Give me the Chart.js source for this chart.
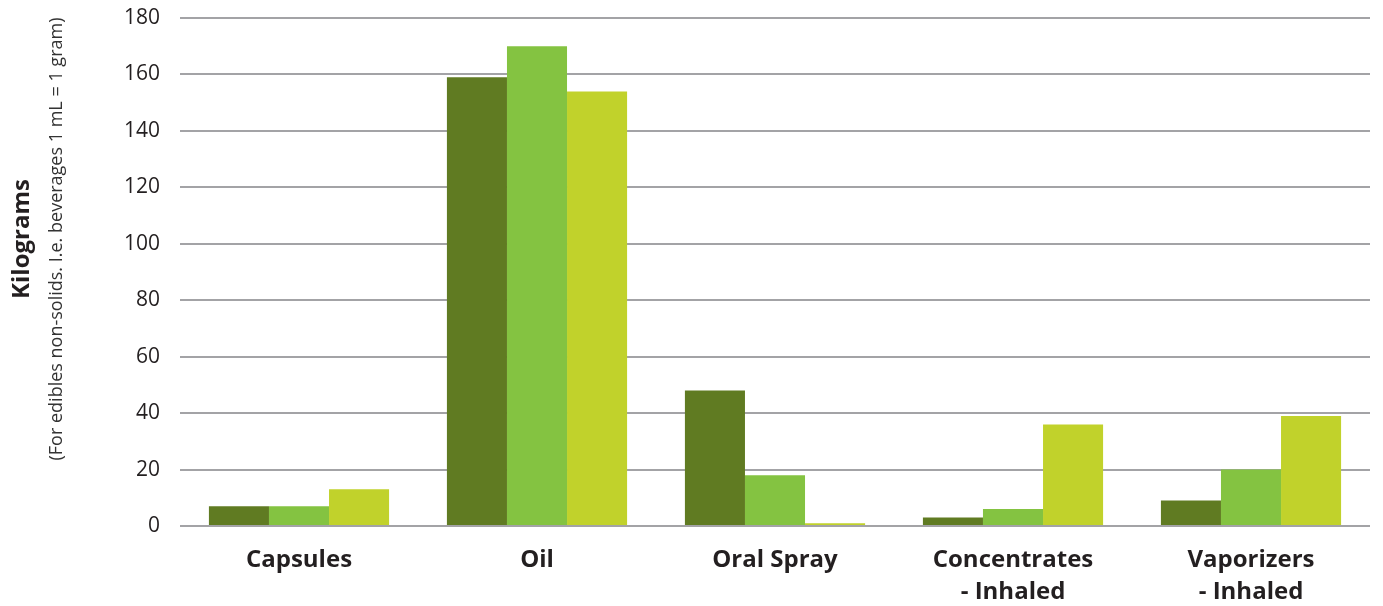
<!DOCTYPE html>
<html>
<head>
<meta charset="utf-8">
<script src="https://cdn.jsdelivr.net/npm/chart.js@4"></script>
<style>
  html, body { margin: 0; padding: 0; background: #fff; }
  #wrap { width: 1383px; height: 606px; }
</style>
</head>
<body>
<div id="wrap"><canvas id="myChart"></canvas></div>
<script>
const categories = ['Capsules', 'Oil', 'Oral Spray', ['Concentrates', '- Inhaled'], ['Vaporizers', '- Inhaled']];
const series1 = [7, 159, 48, 3, 9];
const series2 = [7, 170, 18, 6, 20];
const series3 = [13, 154, 1, 36, 39];
const yTicks = [0, 20, 40, 60, 80, 100, 120, 140, 160, 180];

const FONT = "'Open Sans', sans-serif";

// draws the two-line rotated y title
const yTitlePlugin = {
  id: 'yTitle',
  afterDraw(chart) {
    const c = chart.ctx;
    c.save();
    c.textAlign = 'center';
    c.textBaseline = 'middle';
    c.fillStyle = '#231f20';
    c.translate(22, 239);
    c.rotate(-Math.PI / 2);
    c.font = "bold 24px " + FONT;
    c.fillText('Kilograms', 0, 0);
    c.restore();

    c.save();
    c.textAlign = 'center';
    c.textBaseline = 'middle';
    c.fillStyle = '#333';
    c.translate(57, 239);
    c.rotate(-Math.PI / 2);
    c.font = "18px " + FONT;
    c.fillText('(For edibles non-solids. I.e. beverages 1 mL = 1 gram)', 0, 0);
    c.restore();
  }
};

const ctx = document.getElementById('myChart');
const data = {
  labels: categories,
  datasets: [
    { label: 'Series 1', data: series1, backgroundColor: '#607b22' },
    { label: 'Series 2', data: series2, backgroundColor: '#84c341' },
    { label: 'Series 3', data: series3, backgroundColor: '#c1d22b' }
  ]
};

new Chart(ctx, {
  type: 'bar',
  data,
  plugins: [yTitlePlugin],
  options: {
    responsive: true,
    maintainAspectRatio: false,
    animation: false,
    layout: { padding: { top: 18, right: 13, left: 0, bottom: 0 } },
    datasets: { bar: { categoryPercentage: 0.757, barPercentage: 1.0 } },
    plugins: { legend: { display: false }, tooltip: { enabled: false } },
    scales: {
      x: {
        afterFit(scale) {
          scale.height = 80;
          scale.paddingLeft = 0; scale.paddingRight = 0;
        },
        grid: { display: false, drawTicks: false },
        border: { display: false },
        ticks: {
          color: '#231f20',
          padding: 19,
          maxRotation: 0,
          autoSkip: false,
          font: { family: FONT, size: 24, weight: 'bold', lineHeight: 1.3 }
        }
      },
      y: {
        min: 0,
        max: 180,
        afterFit(scale) {
          scale.width = 180;
          scale.paddingTop = 0; scale.paddingBottom = 0;
        },
        afterBuildTicks(scale) { scale.ticks = yTicks.map(v => ({ value: v })); },
        grid: { color: '#a3a3a6', lineWidth: 2, drawTicks: false },
        border: { display: false },
        ticks: {
          color: '#231f20',
          padding: 20,
          font: { family: FONT, size: 21 }
        }
      }
    }
  }
});
</script>
</body>
</html>
